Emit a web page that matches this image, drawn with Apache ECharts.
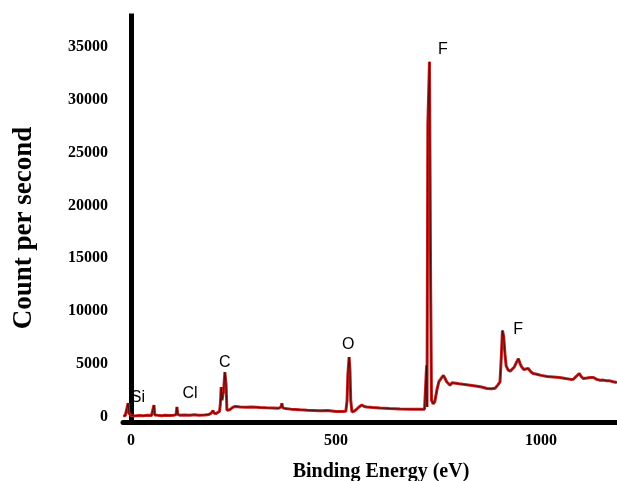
<!DOCTYPE html>
<html>
<head>
<meta charset="utf-8">
<script src="https://cdn.jsdelivr.net/npm/echarts@6/dist/echarts.min.js"></script>
<style>
html,body{margin:0;padding:0;background:#fff;}
#chart{width:617px;height:481px;}
</style>
</head>
<body>
<div id="chart"></div>
<script>
// Binding energy (eV)
var energy = [-19,-14,-10,-7,-5,-3,0,10,20,30,40,50,54,56,58,65,75,83,95,105,110,112,114,120,130,144,155,165,180,190,195,200,203,208,212,216,218,220,222,224,226,229,232,234,238,241,246,251,256,266,280,295,315,330,345,360,364,366,368,370,375,390,412,430,461,480,500,515,524,527,529,532,534,536,539,544,549,556,563,569,575,590,607,630,656,680,705,716,719,721,722,724,728,731,733,737,741,746,751,754,758,762,766,770,778,783,786,792,800,810,827,840,855,868,880,888,895,900,903,906,909,912,915,920,925,929,935,941,945,949,953,958,963,969,975,981,990,1000,1015,1030,1045,1060,1073,1079,1086,1093,1098,1103,1112,1120,1128,1136,1144,1152,1160,1168,1176,1185];
// Count per second
var counts = [60,80,150,1270,300,120,90,60,100,70,110,90,200,1085,150,110,80,120,100,130,180,900,200,120,150,130,170,120,150,200,300,560,300,280,330,500,1200,2780,1550,2030,2500,4200,2970,600,560,650,800,920,950,910,880,900,850,820,800,780,760,900,1245,850,760,700,640,600,540,560,480,470,500,1500,4000,5640,4500,1500,450,500,640,900,1085,950,900,850,800,760,720,700,680,700,700,4860,900,27680,33630,11650,1550,1200,1400,2500,3300,3440,3700,3900,3600,3300,2970,3200,3280,3150,3100,3050,2970,2900,2800,2660,2640,2680,3000,3280,5500,8160,7600,6000,4800,4390,4300,4230,4700,5200,5490,5000,4700,4450,4500,4550,4250,4080,4000,3900,3800,3750,3700,3600,3520,3530,3800,4080,3800,3600,3650,3700,3700,3520,3440,3450,3400,3380,3300,3230];
// Peak annotations
var peakNames = ['F','O','C','Cl','Si','F'];
var peakEnergy = [761,530,229,144,17,944];
var peakCount = [34810,6840,5140,2220,1750,8210];
// Tick labels
var xTicks = [0,500,1000];
var yTicks = [0,5000,10000,15000,20000,25000,30000,35000];

var spectrum = energy.map(function(e,i){return [e,counts[i]];});
var peaks = peakNames.map(function(n,i){return {name:n,value:[peakEnergy[i],peakCount[i]]};});
var plain = function(v){return String(v);};

var chart = echarts.init(document.getElementById('chart'), null, {renderer:'canvas'});
chart.setOption({
  animation:false,
  backgroundColor:'#fff',
  grid:{left:123,right:0,top:16,bottom:59,containLabel:false},
  xAxis:{
    type:'value',min:-19.5,max:1185.4,
    axisLine:{show:true,onZero:false,lineStyle:{color:'#000',width:5}},
    axisTick:{show:false},
    splitLine:{show:false},
    axisLabel:{customValues:xTicks,formatter:plain,margin:11,color:'#000',fontFamily:'Liberation Serif',fontWeight:'bold',fontSize:16}
  },
  yAxis:{
    type:'value',min:-520,max:37970,
    axisLine:{show:true,lineStyle:{color:'#000',width:5,cap:'square'}},
    axisTick:{show:false},
    splitLine:{show:false},
    axisLabel:{customValues:yTicks,formatter:plain,margin:15,color:'#000',fontFamily:'Liberation Serif',fontWeight:'bold',fontSize:16}
  },
  series:[
    {type:'line',data:spectrum,showSymbol:false,lineStyle:{color:'#cc1c1c',width:3},z:2},
    {type:'line',data:spectrum,showSymbol:false,lineStyle:{color:'#200808',width:1,opacity:0.7},z:3},
    {type:'scatter',data:peaks,symbolSize:0,z:4,itemStyle:{opacity:1},
      label:{show:true,position:'inside',formatter:'{b}',color:'#000',opacity:1,fontFamily:'Liberation Sans',fontSize:16}}
  ],
  graphic:[
    {type:'text',x:24,y:228,rotation:Math.PI/2,
      style:{text:'Count per second',font:'bold 27px "Liberation Serif"',fill:'#000',textAlign:'center',textVerticalAlign:'middle'}},
    {type:'text',x:381,y:472,
      style:{text:'Binding Energy (eV)',font:'bold 20px "Liberation Serif"',fill:'#000',textAlign:'center',textVerticalAlign:'middle'}}
  ]
});
</script>
</body>
</html>
